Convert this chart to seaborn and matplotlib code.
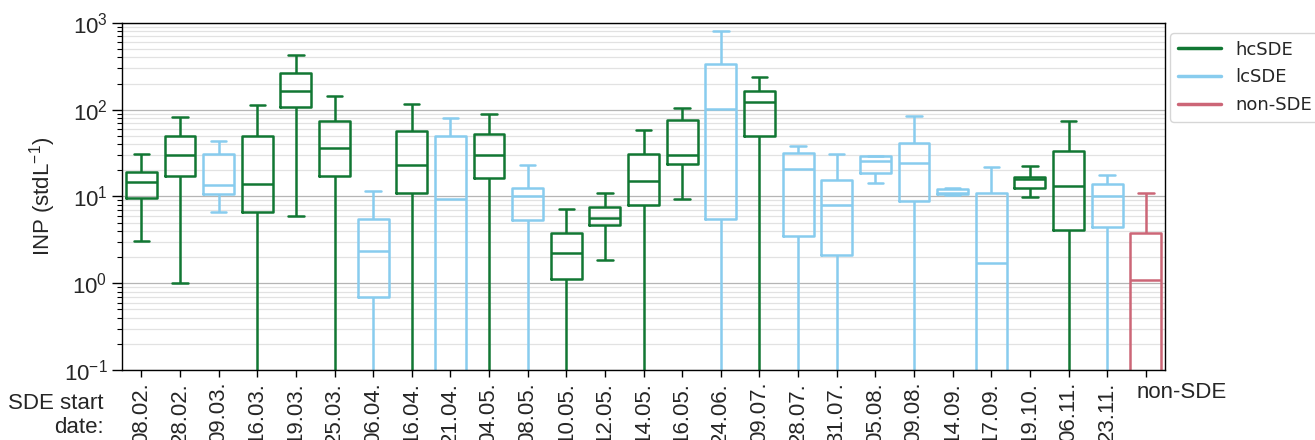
import numpy as np
import pandas as pd
import matplotlib
matplotlib.use("Agg")
import matplotlib.pyplot as plt
import matplotlib.transforms as mtransforms
from matplotlib.lines import Line2D
from matplotlib.ticker import LogLocator, NullFormatter
import seaborn as sns

# Fechas de inicio de los eventos (SDE) y tipo de evento
dates = ["08.02.", "28.02.", "09.03.", "16.03.", "19.03.", "25.03.", "06.04.",
         "16.04.", "21.04.", "04.05.", "08.05.", "10.05.", "12.05.", "14.05.",
         "16.05.", "24.06.", "09.07.", "28.07.", "31.07.", "05.08.", "09.08.",
         "14.09.", "17.09.", "19.10.", "06.11.", "23.11.", "non-SDE"]
kinds = ["hcSDE", "hcSDE", "lcSDE", "hcSDE", "hcSDE", "hcSDE", "lcSDE",
         "hcSDE", "lcSDE", "hcSDE", "lcSDE", "hcSDE", "hcSDE", "hcSDE",
         "hcSDE", "lcSDE", "hcSDE", "lcSDE", "lcSDE", "lcSDE", "lcSDE",
         "lcSDE", "lcSDE", "hcSDE", "hcSDE", "lcSDE", "non-SDE"]

# Resumen de cinco numeros por caja (min, Q1, mediana, Q3, max), INP en stdL-1
# (0.01 / 0.05 = por debajo del eje)
inp_min = [3.1, 1.0, 6.7, 0.01, 6.0, 0.01, 0.01, 0.01, 0.01, 0.01, 0.01, 0.01, 1.86, 0.01,
           9.4, 0.01, 0.01, 0.01, 0.01, 14.2, 0.01, 10.5, 0.01, 9.8, 0.01, 0.01, 0.01]
inp_q1 = [9.6, 17.2, 10.7, 6.7, 107, 17.2, 0.70, 10.9, 0.05, 16.2, 5.3, 1.12, 4.63, 7.95,
          23.7, 5.5, 50.2, 3.5, 2.14, 18.5, 8.8, 10.7, 0.05, 12.4, 4.1, 4.5, 0.05]
inp_med = [14.5, 30.3, 13.4, 13.8, 165, 36.2, 2.38, 23.0, 9.25, 29.8, 10.2, 2.26, 5.68, 15.1,
           30.1, 103, 121, 20.7, 8.0, 25.6, 24.5, 11.0, 1.73, 15.7, 13.1, 10.0, 1.10]
inp_q3 = [19.3, 49.4, 30.6, 49.8, 264, 73.6, 5.48, 56.9, 49.8, 53.0, 12.6, 3.75, 7.48, 31.1,
          76.3, 335, 162, 31.7, 15.6, 29.5, 41.7, 12.2, 11.1, 16.9, 33.4, 13.9, 3.81]
inp_max = [30.9, 83, 43.3, 114.5, 421, 144, 11.5, 116.7, 81, 88.7, 23.0, 7.15, 11.0, 58,
           105, 813, 239, 38.5, 30.9, 29.5, 84.8, 12.4, 22.0, 22.4, 74.2, 17.7, 10.9]

colores = {"hcSDE": "#117733", "lcSDE": "#88CCEE", "non-SDE": "#CC6677"}

filas = []
for i, d in enumerate(dates):
    for v in (inp_min[i], inp_q1[i], inp_med[i], inp_q3[i], inp_max[i]):
        filas.append({"fecha": d, "INP": v, "tipo": kinds[i]})
df = pd.DataFrame(filas)

sns.set_theme(style="ticks")
plt.rcParams["font.family"] = ["Liberation Sans", "DejaVu Sans"]
plt.rcParams["mathtext.fontset"] = "custom"
plt.rcParams["mathtext.rm"] = "Liberation Sans"
plt.rcParams["mathtext.it"] = "Liberation Sans:italic"
plt.rcParams["mathtext.bf"] = "Liberation Sans:bold"

fig, ax = plt.subplots(figsize=(13.15, 4.4), dpi=100)
fig.subplots_adjust(left=0.0928, right=0.886, top=0.948, bottom=0.159)

sns.boxplot(data=df, x="fecha", y="INP", hue="tipo", order=dates, palette=colores,
            fill=False, whis=(0, 100), width=0.8, dodge=False, log_scale=True,
            linewidth=1.8, legend=False, ax=ax)

ax.set_ylim(0.1, 1000)
ax.set_xlim(-0.5, len(dates) - 0.5)
ax.yaxis.set_minor_locator(LogLocator(base=10, subs=np.arange(2, 10)))
ax.yaxis.set_minor_formatter(NullFormatter())
ax.grid(which="major", axis="y", color="#b5b5b5", lw=0.9)
ax.grid(which="minor", axis="y", color="#e2e2e2", lw=0.9)
ax.set_axisbelow(True)
for s in ax.spines.values():
    s.set_visible(True)
    s.set_color("black")
    s.set_linewidth(1.0)

ax.tick_params(axis="y", which="major", length=7, width=1, labelsize=16, color="black")
ax.tick_params(axis="y", which="minor", length=3.5, width=0.8, color="black")
ax.tick_params(axis="x", which="major", length=5, width=1, labelsize=16, color="black")
ax.set_xticks(range(len(dates)))
ax.set_xticklabels(dates, rotation=90, va="top")
ultimo = ax.get_xticklabels()[-1]
ultimo.set_rotation(0)
ultimo.set_ha("left")
ultimo.set_transform(ultimo.get_transform() +
                     mtransforms.ScaledTranslation(-9 / 100, 0, fig.dpi_scale_trans))
ax.set_xlabel("")
ax.set_ylabel("INP (stdL$^{-1}$)", fontsize=16)

fig.text(0.079, 1 - 393 / 440, "SDE start\ndate:", ha="right", va="top",
         fontsize=16, linespacing=1.2)

handles = [Line2D([0], [0], color=colores[k], lw=2.5) for k in colores]
leg = ax.legend(handles, list(colores.keys()), loc="upper left",
                bbox_to_anchor=(1.005, 0.97), borderaxespad=0,
                handlelength=2.4, labelspacing=0.55, handletextpad=0.8, frameon=True,
                prop={"family": "DejaVu Sans", "size": 13})
leg.get_frame().set_edgecolor("#cccccc")

fig.savefig("out.png", dpi=100)
